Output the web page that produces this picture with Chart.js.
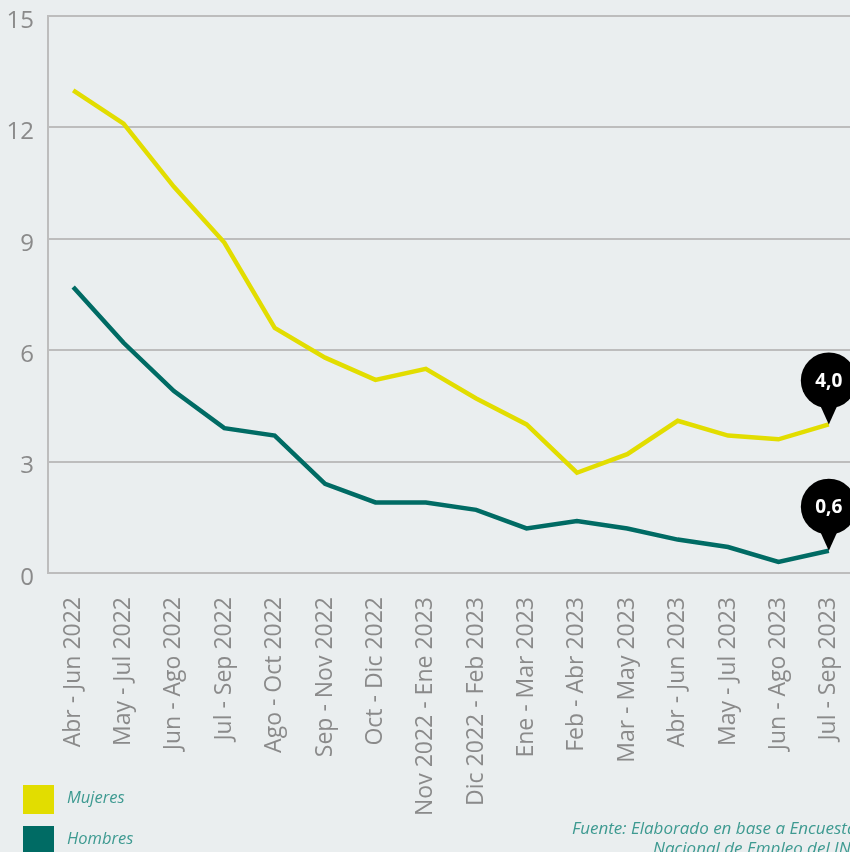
<!DOCTYPE html>
<html>
<head>
<meta charset="utf-8">
<script src="https://cdn.jsdelivr.net/npm/chart.js@4"></script>
<style>
  html, body { margin: 0; padding: 0; background: #eaeeef; overflow: hidden; width: 850px; height: 852px; }
  #wrap { position: absolute; left: 0; top: 0; width: 854px; height: 852px; }
  .leg { position: absolute; left: 23px; width: 31px; height: 29px; }
  .legtxt { position: absolute; left: 67px; font-family: "Open Sans", sans-serif; font-style: italic; font-size: 16.5px; color: #3e9a91; }
  .src { position: absolute; font-family: "Open Sans", sans-serif; font-style: italic; font-size: 17px; color: #3e9a91; white-space: nowrap; }
</style>
</head>
<body>
<div id="wrap"><canvas id="c"></canvas></div>
<div class="leg" style="top:785px; background:#e2dd00;"></div>
<div class="legtxt" style="top:785px;">Mujeres</div>
<div class="leg" style="top:826px; background:#006b64;"></div>
<div class="legtxt" style="top:826px;">Hombres</div>
<div class="src" style="left:572px; top:816px;">Fuente: Elaborado en base a Encuesta</div>
<div class="src" style="left:653px; top:836px;">Nacional de Empleo del INE</div>
<script>
const categories = [
  "Abr - Jun 2022", "May - Jul 2022", "Jun - Ago 2022", "Jul - Sep 2022",
  "Ago - Oct 2022", "Sep - Nov 2022", "Oct - Dic 2022", "Nov 2022 - Ene 2023",
  "Dic 2022 - Feb 2023", "Ene - Mar 2023", "Feb - Abr 2023", "Mar - May 2023",
  "Abr - Jun 2023", "May - Jul 2023", "Jun - Ago 2023", "Jul - Sep 2023"
];
const mujeres = [13.0, 12.1, 10.4, 8.9, 6.6, 5.8, 5.2, 5.5, 4.7, 4.0, 2.7, 3.2, 4.1, 3.7, 3.6, 4.0];
const hombres = [7.7, 6.2, 4.9, 3.9, 3.7, 2.4, 1.9, 1.9, 1.7, 1.2, 1.4, 1.2, 0.9, 0.7, 0.3, 0.6];
const yTicks = [0, 3, 6, 9, 12, 15];

const calloutPlugin = {
  id: 'callout',
  afterDatasetsDraw(chart) {
    const ctx = chart.ctx;
    chart.data.datasets.forEach((ds, di) => {
      const meta = chart.getDatasetMeta(di);
      const last = meta.data.length - 1;
      const pt = meta.data[last];
      const x = pt.x, y = pt.y;
      const r = 28;
      const cy = y - 44;
      ctx.save();
      ctx.fillStyle = '#000';
      ctx.beginPath();
      ctx.arc(x, cy, r, 0, Math.PI * 2);
      ctx.fill();
      ctx.beginPath();
      ctx.moveTo(x - 9, cy + r - 4);
      ctx.lineTo(x + 9, cy + r - 4);
      ctx.lineTo(x, y);
      ctx.closePath();
      ctx.fill();
      ctx.fillStyle = '#fff';
      ctx.font = 'bold 19px "Open Sans", sans-serif';
      ctx.textAlign = 'center';
      ctx.textBaseline = 'middle';
      ctx.fillText(ds.data[last].toFixed(1).replace('.', ','), x, cy + 1);
      ctx.restore();
    });
  }
};

new Chart(document.getElementById('c'), {
  type: 'line',
  data: {
    labels: categories,
    datasets: [
      { label: 'Mujeres', data: mujeres, borderColor: '#e2dd00', borderWidth: 4.5, pointRadius: 0, tension: 0, fill: false },
      { label: 'Hombres', data: hombres, borderColor: '#006b64', borderWidth: 4.5, pointRadius: 0, tension: 0, fill: false }
    ]
  },
  options: {
    responsive: true,
    maintainAspectRatio: false,
    animation: false,
    layout: { padding: { top: 16, right: 0, left: 0, bottom: 0 } },
    plugins: { legend: { display: false }, tooltip: { enabled: false } },
    scales: {
      x: {
        offset: true,
        grid: { display: false, drawTicks: false },
        border: { display: false },
        ticks: {
          autoSkip: false, maxRotation: 90, minRotation: 90, padding: 24,
          color: '#8a8a8a', font: { family: '"Open Sans", sans-serif', size: 23 }
        },
        afterFit(scale) { scale.height = 852 - 573; scale.paddingLeft = 0; scale.paddingRight = 0; }
      },
      y: {
        min: 0, max: 15,
        afterBuildTicks(scale) { scale.ticks = yTicks.map(v => ({ value: v })); },
        grid: { color: '#bdbdbd', lineWidth: 2, drawTicks: false },
        border: { display: true, color: '#bdbdbd', width: 2 },
        ticks: {
          padding: 14, labelOffset: 5,
          color: '#8a8a8a', font: { family: '"Open Sans", sans-serif', size: 24 }
        },
        afterFit(scale) { scale.width = 48; scale.paddingTop = 0; scale.paddingBottom = 0; }
      }
    }
  },
  plugins: [calloutPlugin]
});
</script>
</body>
</html>
